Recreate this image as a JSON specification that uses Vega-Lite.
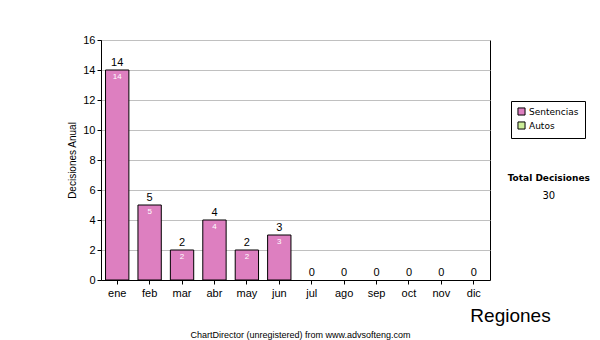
{
  "$schema": "https://vega.github.io/schema/vega-lite/v6.json",
  "width": 389,
  "height": 240,
  "autosize": {"type": "none"},
  "padding": {"left": 101, "top": 40, "right": 110, "bottom": 60},
  "background": "white",
  "config": {
    "font": "Liberation Sans",
    "view": {"stroke": "black", "strokeWidth": 1}
  },
  "title": {
    "text": "Total Decisiones",
    "subtitle": "30",
    "anchor": "start",
    "align": "center",
    "dx": 481,
    "dy": 171,
    "font": "DejaVu Sans",
    "fontSize": 9,
    "fontWeight": "bold",
    "color": "black",
    "subtitleFont": "DejaVu Sans",
    "subtitleFontSize": 10,
    "subtitleColor": "black",
    "subtitlePadding": 8
  },
  "data": {
    "values": [
      {"mes": "ene", "v": 14, "tipo": "Sentencias"},
      {"mes": "feb", "v": 5, "tipo": "Sentencias"},
      {"mes": "mar", "v": 2, "tipo": "Sentencias"},
      {"mes": "abr", "v": 4, "tipo": "Sentencias"},
      {"mes": "may", "v": 2, "tipo": "Sentencias"},
      {"mes": "jun", "v": 3, "tipo": "Sentencias"},
      {"mes": "jul", "v": 0, "tipo": "Sentencias"},
      {"mes": "ago", "v": 0, "tipo": "Sentencias"},
      {"mes": "sep", "v": 0, "tipo": "Sentencias"},
      {"mes": "oct", "v": 0, "tipo": "Sentencias"},
      {"mes": "nov", "v": 0, "tipo": "Sentencias"},
      {"mes": "dic", "v": 0, "tipo": "Sentencias"}
    ]
  },
  "encoding": {
    "y": {
      "field": "v",
      "type": "quantitative",
      "scale": {"domain": [0, 16], "nice": false},
      "axis": {
        "values": [0, 2, 4, 6, 8, 10, 12, 14, 16],
        "grid": true,
        "gridColor": "#c0c0c0",
        "gridWidth": 1,
        "domainColor": "black",
        "tickColor": "black",
        "tickSize": 4,
        "labelFontSize": 11,
        "labelColor": "black",
        "labelPadding": 2,
        "title": "Decisiones Anual",
        "titleFontSize": 10,
        "titleFontWeight": "normal",
        "titleColor": "black",
        "titlePadding": 5
      }
    }
  },
  "layer": [
    {
      "mark": {"type": "bar", "stroke": "black", "strokeWidth": 1, "opacity": 1},
      "encoding": {
        "x": {
          "field": "mes",
          "type": "nominal",
          "sort": null,
          "scale": {"paddingInner": 0.28, "paddingOuter": 0.14},
          "axis": {
            "orient": "bottom",
            "labelAngle": 0,
            "labelFontSize": 11,
            "labelColor": "black",
            "labelPadding": 3,
            "tickSize": 4,
            "tickColor": "black",
            "domainColor": "black",
            "grid": false,
            "title": "ChartDirector (unregistered) from www.advsofteng.com",
            "titleFontSize": 9,
            "titleFontWeight": "normal",
            "titleColor": "black",
            "titleX": 199,
            "titleY": 54,
            "titleBaseline": "middle",
            "titleAlign": "center"
          }
        },
        "color": {
          "field": "tipo",
          "type": "nominal",
          "scale": {"domain": ["Sentencias", "Autos"], "range": ["#dd7fc0", "#ccee99"]},
          "legend": {
            "orient": "none",
            "legendX": 410,
            "legendY": 61,
            "title": null,
            "strokeColor": "black",
            "fillColor": "white",
            "padding": 6,
            "symbolType": "square",
            "symbolSize": 50,
            "symbolStrokeColor": "black",
            "symbolStrokeWidth": 1,
            "labelFont": "DejaVu Sans",
            "labelFontSize": 9,
            "labelColor": "black",
            "rowPadding": 1,
            "labelOffset": 3,
            "labelLimit": 200
          }
        },
        "opacity": {
          "condition": {"test": "datum.v > 0", "value": 1},
          "value": 0
        }
      }
    },
    {
      "mark": {"type": "text", "baseline": "bottom", "dy": -2, "fontSize": 11, "color": "black"},
      "encoding": {
        "x": {"field": "mes", "type": "nominal", "sort": null, "axis": null},
        "text": {"field": "v", "type": "quantitative"}
      }
    },
    {
      "transform": [{"filter": "datum.v > 0"}],
      "mark": {"type": "text", "baseline": "top", "dy": 3, "fontSize": 8, "color": "white"},
      "encoding": {
        "x": {
          "field": "mes",
          "type": "nominal",
          "sort": null,
          "axis": {
            "orient": "bottom",
            "labels": false,
            "ticks": false,
            "domain": false,
            "grid": false,
            "title": "Regiones",
            "titleFontSize": 19,
            "titleFontWeight": "normal",
            "titleColor": "black",
            "titleX": 409,
            "titleY": 35,
            "titleBaseline": "middle",
            "titleAlign": "center"
          }
        },
        "text": {"field": "v", "type": "quantitative"}
      }
    }
  ],
  "resolve": {"axis": {"x": "independent"}}
}
